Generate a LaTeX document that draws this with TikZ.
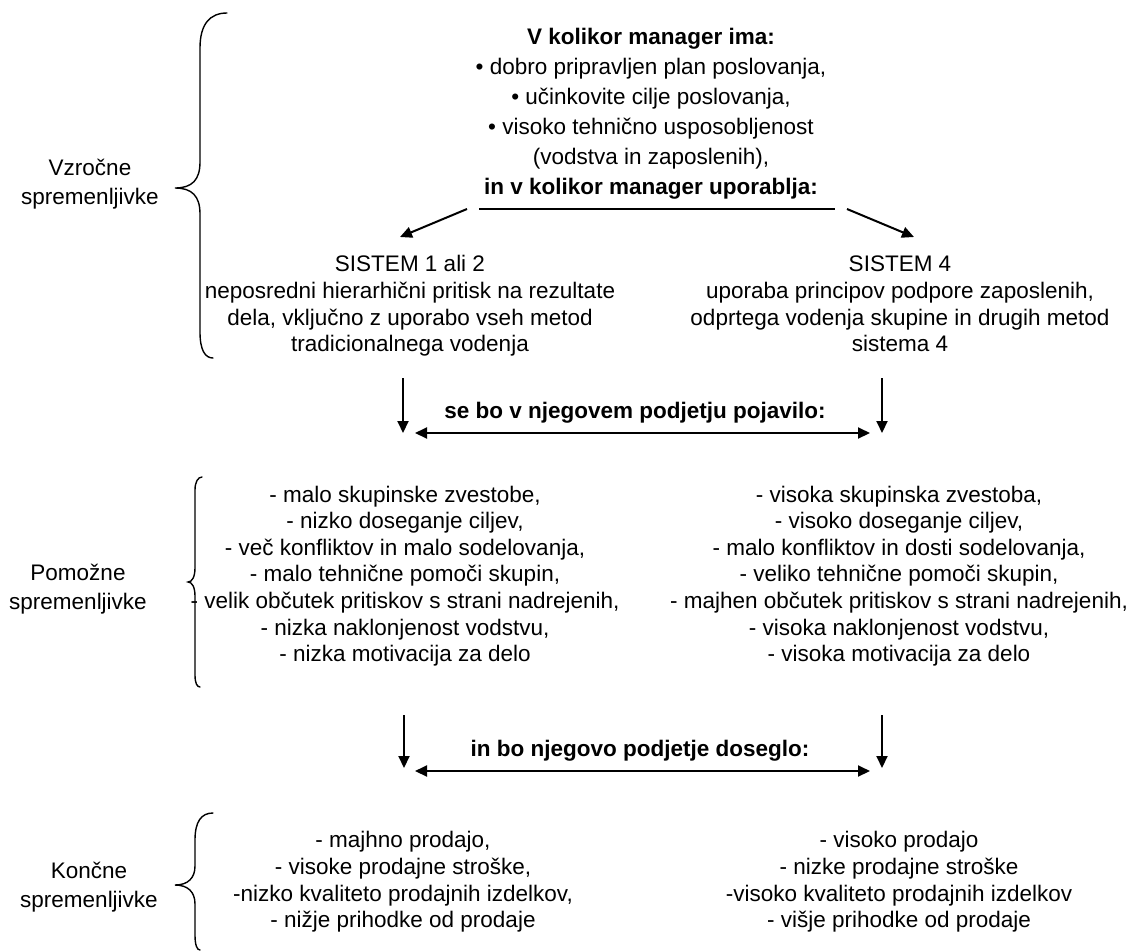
\documentclass[tikz,border=0pt]{standalone}
\usepackage{fontspec}
\setmainfont{Liberation Sans}
\usetikzlibrary{arrows.meta}
\begin{document}
\begin{tikzpicture}[x=1pt,y=-1pt,
  txt/.style={align=center, inner sep=0pt, font=\fontsize{22.5}{26.6}\selectfont},
  toptxt/.style={align=center, inner sep=0pt, font=\fontsize{22.5}{30}\selectfont},
  lab/.style={align=center, inner sep=0pt, font=\fontsize{22.5}{29.5}\selectfont},
  conn/.style={line width=2pt, -{Triangle[length=12pt,width=11pt]}},
  twoway/.style={line width=2pt, {Triangle[length=12pt,width=11pt]}-{Triangle[length=12pt,width=11pt]}},
  bracket/.style={line width=1.4pt, line cap=round}
]
\useasboundingbox (0,0) rectangle (1127,951);

% ---- causal variables ----
\node[toptxt] (cause) at (651,114) {\textbf{V kolikor manager ima:}\\
  • dobro pripravljen plan poslovanja,\\
  • učinkovite cilje poslovanja,\\
  • visoko tehnično usposobljenost\\
  (vodstva in zaposlenih),\\
  \textbf{in v kolikor manager uporablja:}};

\coordinate (ruleL) at (479,209);
\coordinate (ruleR) at (835,209);
\draw[line width=2pt] (ruleL) -- (ruleR);

\node[txt] (sysA) at (410,306) {SISTEM 1 ali 2\\
  neposredni hierarhični pritisk na rezultate\\
  dela, vključno z uporabo vseh metod\\
  tradicionalnega vodenja};
\node[txt] (sysB) at (900,304) {SISTEM 4\\
  uporaba principov podpore zaposlenih,\\
  odprtega vodenja skupine in drugih metod\\
  sistema 4};

\coordinate (splitL) at (467,209);
\coordinate (splitLend) at (400,237);
\coordinate (splitR) at (847,209);
\coordinate (splitRend) at (914,237);
\draw[conn] (splitL) -- (splitLend);
\draw[conn] (splitR) -- (splitRend);

\node[lab] (labA) at (90,184) {Vzročne\\spremenljivke};
\draw[bracket] (227,13) .. controls (210,13) and (200,24) .. (200,48)
  -- (200,162) .. controls (200,180) and (192,188) .. (175,188)
  .. controls (192,188) and (200,196) .. (200,214)
  -- (200,332) .. controls (200,350) and (205,358) .. (213,358);

% ---- first transition ----
\coordinate (dA1) at (403,378);
\coordinate (dA2) at (403,433);
\coordinate (dB1) at (882,378);
\coordinate (dB2) at (882,433);
\draw[conn] (dA1) -- (dA2);
\draw[conn] (dB1) -- (dB2);
\node[txt, font=\fontsize{22.5}{26.6}\selectfont\bfseries] (mid1) at (635,413) {se bo v njegovem podjetju pojavilo:};
\coordinate (hA1) at (415,433);
\coordinate (hB1) at (870,433);
\draw[twoway] (hA1) -- (hB1);

% ---- intervening variables ----
\node[txt] (intA) at (405,576) {- malo skupinske zvestobe,\\
  - nizko doseganje ciljev,\\
  - več konfliktov in malo sodelovanja,\\
  - malo tehnične pomoči skupin,\\
  - velik občutek pritiskov s strani nadrejenih,\\
  - nizka naklonjenost vodstvu,\\
  - nizka motivacija za delo};
\node[txt] (intB) at (899,576) {- visoka skupinska zvestoba,\\
  - visoko doseganje ciljev,\\
  - malo konfliktov in dosti sodelovanja,\\
  - veliko tehnične pomoči skupin,\\
  - majhen občutek pritiskov s strani nadrejenih,\\
  - visoka naklonjenost vodstvu,\\
  - visoka motivacija za delo};

\node[lab] (labB) at (78,589) {Pomožne\\spremenljivke};
\draw[bracket] (202,477) .. controls (198,477) and (195,482) .. (195,490)
  -- (195,568) .. controls (195,577) and (192,582) .. (188,582)
  .. controls (192,582) and (195,587) .. (195,596)
  -- (195,675) .. controls (195,683) and (197,687) .. (200,687);

% ---- second transition ----
\coordinate (dA3) at (404,715);
\coordinate (dA4) at (404,768);
\coordinate (dB3) at (882,715);
\coordinate (dB4) at (882,768);
\draw[conn] (dA3) -- (dA4);
\draw[conn] (dB3) -- (dB4);
\node[txt, font=\fontsize{22.5}{26.6}\selectfont\bfseries] (mid2) at (640,751) {in bo njegovo podjetje doseglo:};
\coordinate (hA2) at (415,771);
\coordinate (hB2) at (870,771);
\draw[twoway] (hA2) -- (hB2);

% ---- end-result variables ----
\node[txt] (endA) at (403,882) {- majhno prodajo,\\
  - visoke prodajne stroške,\\
  -nizko kvaliteto prodajnih izdelkov,\\
  - nižje prihodke od prodaje};
\node[txt] (endB) at (899,882) {- visoko prodajo\\
  - nizke prodajne stroške\\
  -visoko kvaliteto prodajnih izdelkov\\
  - višje prihodke od prodaje};

\node[lab] (labC) at (89,887) {Končne\\spremenljivke};
\draw[bracket] (213,813) .. controls (201,813) and (195,822) .. (195,840)
  -- (195,866) .. controls (195,878) and (188,885) .. (175,885)
  .. controls (188,885) and (195,892) .. (195,904)
  -- (195,935) .. controls (195,945) and (197,950) .. (200,950);
\end{tikzpicture}
\end{document}
